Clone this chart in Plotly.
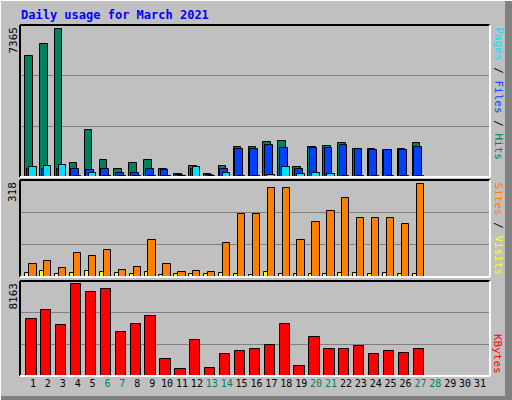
import plotly.graph_objects as go

days = list(range(1, 32))
hits = [5860,6440,7155,700,2270,810,370,700,840,370,130,520,130,520,1440,1440,1680,1730,470,1440,1490,1640,1340,1340,1300,1340,1640,0,None,0,None]
files = [370,400,370,400,360,370,180,210,400,320,100,370,110,400,1380,1380,1540,1390,400,1390,1390,1540,1340,1300,1300,1300,1440,0,None,0,None]
pages = [470,520,570,60,180,60,60,60,60,60,50,470,50,210,60,60,110,490,130,180,130,60,60,60,60,60,60,0,None,0,None]
sites = [44,54,31,80,70,90,24,34,120,44,18,21,18,110,205,205,291,291,120,179,218,258,195,192,192,175,304,0,None,0,None]
visits = [14,21,11,14,21,18,14,11,18,8,11,11,11,14,11,8,18,11,11,11,11,14,14,11,14,11,11,0,None,0,None]
kbytes = [4860,5630,4340,7900,7180,7440,3820,4430,5120,1490,630,3130,720,1930,2180,2360,2700,4510,890,3390,2360,2360,2620,1930,2180,2010,2360,0,None,0,None]
max_hits, max_sites, max_kb = 7365, 318, 8163
weekend = {6,7,13,14,20,21,27,28}

fig = go.Figure()
def bar(y, color, off, w, ax):
    fig.add_trace(go.Bar(x=days, y=y, offset=off, width=w, marker=dict(color=color, line=dict(color="black", width=1)),
                         xaxis="x" if ax == 1 else f"x{ax}", yaxis="y" if ax == 1 else f"y{ax}", showlegend=False))
bar(hits, "#00805c", -0.53, 0.51, 1)
bar(files, "#0040ff", -0.42, 0.51, 1)
bar(pages, "#00e0ff", -0.27, 0.51, 1)
bar(visits, "#ffff00", -0.51, 0.27, 2)
bar(sites, "#ff8000", -0.25, 0.49, 2)
bar(kbytes, "#ff0000", -0.45, 0.69, 3)

W, H = 512, 400
xd = [20/W, 490/W]
xr = [0.13, 31.67]
doms = {1: [1-177/H, 1-25/H], 2: [1-277/H, 1-180/H], 3: [1-376/H, 1-281/H]}
maxes = {1: max_hits, 2: max_sites, 3: max_kb}
ticktext = [f"<span style='color:#00805c'>{d}</span>" if d in weekend else str(d) for d in days]
lay = {}
for i in (1, 2, 3):
    s = "" if i == 1 else str(i)
    lay[f"xaxis{s}"] = dict(domain=xd, range=xr, anchor=f"y{s}", showgrid=False, zeroline=False,
                            showticklabels=(i == 3), tickvals=days, ticktext=ticktext, ticks="", tickangle=0,
                            tickfont=dict(family="DejaVu Sans Mono", size=10, color="black"),
                            showline=False, fixedrange=True)
    m = maxes[i]
    lay[f"yaxis{s}"] = dict(domain=doms[i], range=[0, m*1.0], anchor=f"x{s}", tickvals=[m/3, 2*m/3],
                            showticklabels=False, gridcolor="#808080", gridwidth=1, zeroline=False, showline=False)
fig.update_layout(**lay, width=W, height=H, margin=dict(l=0, r=0, t=0, b=0),
                  paper_bgcolor="#c0c0c0", plot_bgcolor="#c0c0c0", barmode="overlay", bargap=0)

shapes = []
shapes += [dict(type="line", xref="paper", yref="paper", x0=0, x1=1, y0=1, y1=1, line=dict(color="white", width=2)),
           dict(type="line", xref="paper", yref="paper", x0=0, x1=0, y0=0, y1=1, line=dict(color="white", width=2)),
           dict(type="rect", xref="paper", yref="paper", x0=505/W, x1=1, y0=0, y1=1, fillcolor="#808080", line=dict(width=0), layer="below"),
           dict(type="rect", xref="paper", yref="paper", x0=0, x1=1, y0=0, y1=4/H, fillcolor="#808080", line=dict(width=0), layer="below")]
for i in (1, 2, 3):
    y0, y1 = doms[i]
    shapes += [dict(type="line", xref="paper", yref="paper", x0=xd[0], x1=xd[1], y0=y1, y1=y1, line=dict(color="black", width=2)),
               dict(type="line", xref="paper", yref="paper", x0=xd[0], x1=xd[0], y0=y0, y1=y1, line=dict(color="black", width=2)),
               dict(type="line", xref="paper", yref="paper", x0=xd[0], x1=xd[1], y0=y0, y1=y0, line=dict(color="white", width=2)),
               dict(type="line", xref="paper", yref="paper", x0=xd[1], x1=xd[1], y0=y0, y1=y1, line=dict(color="white", width=2))]
fig.update_layout(shapes=shapes)

mono = "DejaVu Sans Mono"
ann = [dict(text="<b>Daily usage for March 2021</b>", x=19/W, y=1-15/H, xref="paper", yref="paper", xanchor="left",
            yanchor="middle", showarrow=False, font=dict(family=mono, size=12, color="#0000ff"))]
for i in (1, 2, 3):
    ann.append(dict(text=str(maxes[i]), x=13/W, y=doms[i][1], xref="paper", yref="paper", xanchor="center", yanchor="top",
                    textangle=-90, showarrow=False, font=dict(family=mono, size=11, color="black")))
ann.append(dict(text="<span style='color:#00e0ff'>Pages</span> / <span style='color:#0040ff'>Files</span> / <span style='color:#00805c'>Hits</span>",
                x=498/W, y=doms[1][1], xref="paper", yref="paper", xanchor="center", yanchor="top", textangle=90,
                showarrow=False, font=dict(family=mono, size=11, color="black")))
ann.append(dict(text="<span style='color:#ff8000'>Sites</span> / <span style='color:#ffff00'>Visits</span>",
                x=498/W, y=doms[2][1], xref="paper", yref="paper", xanchor="center", yanchor="top", textangle=90,
                showarrow=False, font=dict(family=mono, size=11, color="black")))
ann.append(dict(text="<span style='color:#ff0000'>KBytes</span>",
                x=498/W, y=doms[3][0], xref="paper", yref="paper", xanchor="center", yanchor="bottom", textangle=90,
                showarrow=False, font=dict(family=mono, size=11, color="black")))
fig.update_layout(annotations=ann)
fig.write_html("out.html", config={"displayModeBar": False})
with open("out.html") as f:
    html = f.read()
html = html.replace("<head>", "<head><style>html,body{margin:0;padding:0;overflow:hidden}</style>", 1)
with open("out.html", "w") as f:
    f.write(html)
